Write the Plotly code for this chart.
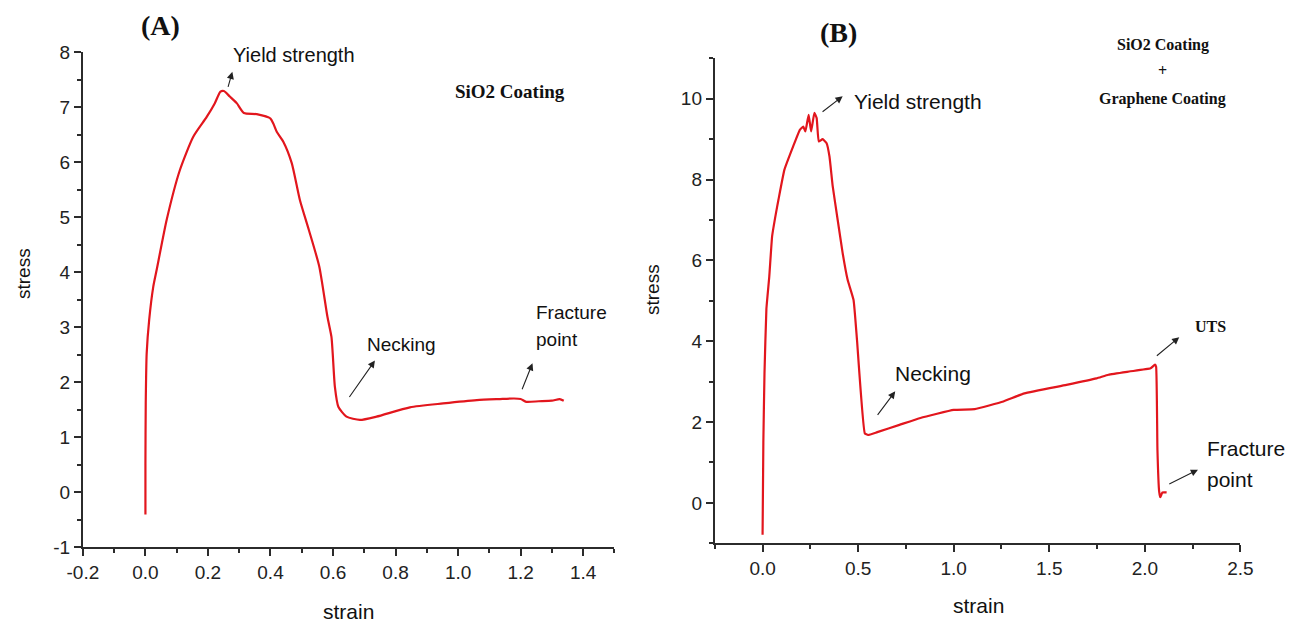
import plotly.graph_objects as go

# ---------------- data ----------------
strain_a = [0.0, 0.0, 0.001, 0.004, 0.012, 0.025, 0.036, 0.068, 0.110, 0.153, 0.196, 0.222,
            0.240, 0.251, 0.270, 0.292, 0.315, 0.356, 0.400, 0.409, 0.420, 0.441, 0.468,
            0.494, 0.523, 0.556, 0.582, 0.595, 0.599, 0.606, 0.617, 0.643, 0.686, 0.739,
            0.846, 0.952, 1.060, 1.134, 1.179, 1.200, 1.218, 1.258, 1.300, 1.325, 1.338]
stress_a = [-0.41, 0.5, 1.61, 2.52, 3.13, 3.73, 4.04, 4.95, 5.85, 6.46, 6.82, 7.07,
            7.28, 7.29, 7.19, 7.07, 6.89, 6.87, 6.79, 6.70, 6.55, 6.37, 5.98,
            5.31, 4.76, 4.10, 3.19, 2.82, 2.52, 1.91, 1.55, 1.37, 1.31, 1.37,
            1.54, 1.61, 1.67, 1.69, 1.70, 1.69, 1.64, 1.65, 1.66, 1.69, 1.66]

strain_b = [0.0, 0.004, 0.010, 0.020, 0.035, 0.050, 0.070, 0.083, 0.114, 0.160, 0.195, 0.213,
            0.224, 0.241, 0.254, 0.271, 0.283, 0.294, 0.314, 0.335, 0.350, 0.367, 0.393,
            0.419, 0.445, 0.476, 0.494, 0.535, 0.552, 0.600, 0.716, 0.826, 1.0, 1.11,
            1.26, 1.37, 1.59, 1.747, 1.81, 1.918, 2.03, 2.053, 2.059, 2.066, 2.075,
            2.081, 2.092, 2.114]
stress_b = [-0.79, 1.5, 3.2, 4.8, 5.6, 6.6, 7.17, 7.5, 8.24, 8.82, 9.23, 9.31,
            9.19, 9.60, 9.19, 9.65, 9.52, 8.94, 9.00, 8.90, 8.57, 7.83, 7.00,
            6.18, 5.52, 5.02, 4.03, 1.72, 1.68, 1.75, 1.93, 2.10, 2.30, 2.32,
            2.51, 2.71, 2.92, 3.08, 3.17, 3.25, 3.33, 3.42, 3.37, 1.31, 0.28,
            0.14, 0.26, 0.26]

# tick labels (hyphen-minus as in the original)
xa_tickvals = [-0.2, 0.0, 0.2, 0.4, 0.6, 0.8, 1.0, 1.2, 1.4]
xa_ticktext = ["-0.2", "0.0", "0.2", "0.4", "0.6", "0.8", "1.0", "1.2", "1.4"]
ya_tickvals = [-1, 0, 1, 2, 3, 4, 5, 6, 7, 8]
ya_ticktext = ["-1", "0", "1", "2", "3", "4", "5", "6", "7", "8"]
xb_tickvals = [0.0, 0.5, 1.0, 1.5, 2.0, 2.5]
xb_ticktext = ["0.0", "0.5", "1.0", "1.5", "2.0", "2.5"]
yb_tickvals = [0, 2, 4, 6, 8, 10]
yb_ticktext = ["0", "2", "4", "6", "8", "10"]

RED = "#e2161d"
AX = "#2b2b2b"
SANS = "Liberation Sans, Arial, sans-serif"
SERIF = "Liberation Serif, Times New Roman, serif"

fig = go.Figure()
fig.add_trace(go.Scatter(x=strain_a, y=stress_a, mode="lines",
                         line=dict(color=RED, width=2.2, shape="spline", smoothing=0.6),
                         xaxis="x", yaxis="y", showlegend=False))
fig.add_trace(go.Scatter(x=strain_b, y=stress_b, mode="lines",
                         line=dict(color=RED, width=2.2, shape="spline", smoothing=0.35),
                         xaxis="x2", yaxis="y2", showlegend=False))


def axis(domain, rng, tickvals, ticktext, minor, anchor):
    return dict(domain=domain, range=rng, anchor=anchor,
                tickmode="array", tickvals=tickvals, ticktext=ticktext,
                showline=True, linewidth=2, linecolor=AX, mirror=False,
                ticks="outside", ticklen=7, tickwidth=1.6, tickcolor=AX,
                showgrid=False, zeroline=False, automargin=False,
                tickfont=dict(family=SANS, size=19, color="#222"),
                minor=dict(ticks="outside", ticklen=4, tickwidth=1.6, tickcolor=AX,
                           dtick=minor, tick0=0, showgrid=False))


W, H = 1303, 626
fig.update_layout(
    width=W, height=H, autosize=False,
    margin=dict(l=0, r=0, t=0, b=0, pad=0, autoexpand=False),
    paper_bgcolor="white", plot_bgcolor="white",
    xaxis=axis([82.9 / W, 614.4 / W], [-0.2, 1.5], xa_tickvals, xa_ticktext, 0.1, "y"),
    yaxis=axis([(H - 547) / H, (H - 52) / H], [-1, 8], ya_tickvals, ya_ticktext, 0.5, "x"),
    xaxis2=axis([714.8 / W, 1240.4 / W], [-0.25, 2.5], xb_tickvals, xb_ticktext, 0.25, "y2"),
    yaxis2=axis([(H - 543.3) / H, (H - 58.3) / H], [-1, 11], yb_tickvals, yb_ticktext, 1, "x2"),
)

ann = []


def text(x, y, t, size, family=SANS, xref="x", yref="y", bold=False, xanchor="center", angle=0):
    if bold:
        t = "<b>" + t + "</b>"
    ann.append(dict(x=x, y=y, xref=xref, yref=yref, text=t, showarrow=False,
                    xanchor=xanchor, yanchor="middle", textangle=angle,
                    font=dict(family=family, size=size, color="#111")))


def arrow(x0, y0, x1, y1, xref="x", yref="y"):
    ann.append(dict(x=x1, y=y1, ax=x0, ay=y0, xref=xref, yref=yref,
                    axref=xref, ayref=yref, text="", showarrow=True,
                    arrowhead=2, arrowsize=1.3, arrowwidth=1.1, arrowcolor="#222",
                    standoff=0, startstandoff=0))


def P(px, py):
    return px / W, (H - py) / H


# Panel A
px, py = P(160.6, 25)
text(px, py, "(A)", 28, SERIF, xref="paper", yref="paper", bold=True)
text(0.476, 7.945, "Yield strength", 20)
arrow(0.263, 7.34, 0.278, 7.64)
text(1.166, 7.28, "SiO2 Coating", 19, SERIF, bold=True)
text(0.82, 2.69, "Necking", 19)
arrow(0.649, 1.70, 0.734, 2.39)
text(1.242, 3.255, "Fracture", 19, xanchor="left")
text(1.242, 2.764, "point", 19, xanchor="left")
arrow(1.203, 1.84, 1.238, 2.34)
px, py = P(23, 274)
text(px, py, "stress", 19, xref="paper", yref="paper", angle=-90)
px, py = P(348, 611.7)
text(px, py, "strain", 21, xref="paper", yref="paper")

# Panel B
px, py = P(838.7, 33)
text(px, py, "(B)", 28, SERIF, xref="paper", yref="paper", bold=True)
text(0.815, 9.93, "Yield strength", 21, xref="x2", yref="y2")
arrow(0.306, 9.65, 0.419, 10.06, "x2", "y2")
px, py = P(1162.5, 45)
text(px, py, "SiO2 Coating", 16, SERIF, xref="paper", yref="paper", bold=True)
px, py = P(1162.5, 70)
text(px, py, "+", 16, SERIF, xref="paper", yref="paper", bold=True)
px, py = P(1162.5, 99.3)
text(px, py, "Graphene Coating", 16, SERIF, xref="paper", yref="paper", bold=True)
text(0.891, 3.19, "Necking", 21, xref="x2", yref="y2")
arrow(0.596, 2.14, 0.694, 2.76, "x2", "y2")
text(2.343, 4.36, "UTS", 16, SERIF, xref="x2", yref="y2", bold=True)
arrow(2.055, 3.61, 2.18, 4.10, "x2", "y2")
text(2.315, 1.354, "Fracture", 21, xref="x2", yref="y2", xanchor="left")
text(2.315, 0.569, "point", 21, xref="x2", yref="y2", xanchor="left")
arrow(2.12, 0.45, 2.278, 0.82, "x2", "y2")
px, py = P(652, 290)
text(px, py, "stress", 19, xref="paper", yref="paper", angle=-90)
px, py = P(978, 605)
text(px, py, "strain", 21, xref="paper", yref="paper")

fig.update_layout(annotations=ann)
fig.write_html("out.html")
